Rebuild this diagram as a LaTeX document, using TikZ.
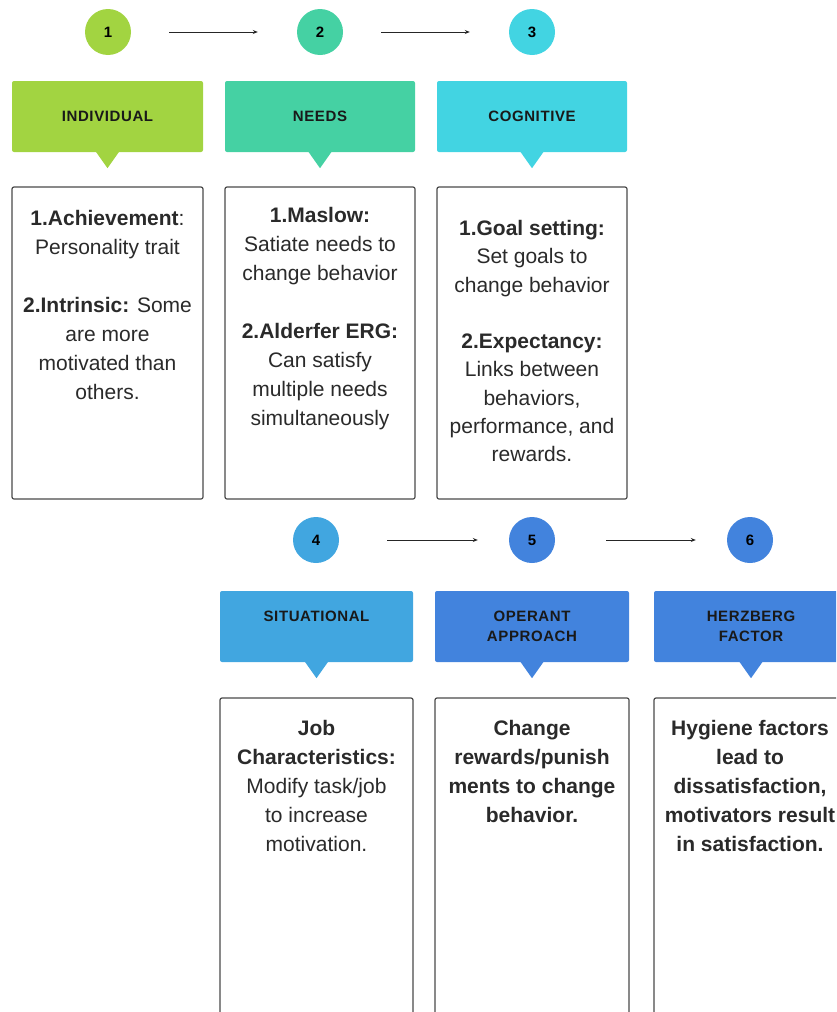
\documentclass[tikz,border=0pt]{standalone}
\usepackage{fontspec}
\setmainfont{Liberation Sans}
\newfontfamily\hdrfont[LetterSpace=4]{Liberation Sans}
\usetikzlibrary{arrows.meta}
\definecolor{cA}{HTML}{A2D441}
\definecolor{cB}{HTML}{45D1A3}
\definecolor{cC}{HTML}{42D4E2}
\definecolor{cD}{HTML}{41A6E0}
\definecolor{cE}{HTML}{4283DD}
\definecolor{txt}{HTML}{2A2A2A}
\definecolor{edge}{HTML}{4A4A4A}
\begin{document}
\begin{tikzpicture}[x=1pt,y=-1pt,
  num/.style={circle,minimum size=46pt,inner sep=0pt,font=\fontsize{15}{18}\selectfont\bfseries,text=black},
  hdr/.style={rectangle,rounded corners=2pt,inner sep=0pt,minimum height=71pt,align=center,
     font=\hdrfont\fontsize{15}{20}\selectfont\bfseries,text=black!90},
  card/.style={rectangle,rounded corners=2pt,draw=edge,line width=1.2pt,fill=white,inner sep=0pt},
  body/.style={anchor=north,inner sep=0pt,align=center,text=txt,font=\fontsize{21}{29}\selectfont},
  arr/.style={draw=black!85,line width=1pt,-{Stealth[length=5pt,width=4pt]}}]
\useasboundingbox (0,0) rectangle (836,1012);
\clip (0,0) rectangle (836,1012);
% ---- row 1 circles
\node[num,fill=cA] (c1) at (108,32) {1};
\node[num,fill=cB] (c2) at (320,32) {2};
\node[num,fill=cC] (c3) at (532,32) {3};
\draw[arr,shorten <=38pt,shorten >=39pt] (c1) -- (c2);
\draw[arr,shorten <=38pt,shorten >=39pt] (c2) -- (c3);
% ---- row 1 headers
\node[hdr,fill=cA,minimum width=191pt] (h1) at (107.5,116.5) {INDIVIDUAL};
\node[hdr,fill=cB,minimum width=190pt] (h2) at (320,116.5) {NEEDS};
\node[hdr,fill=cC,minimum width=190pt] (h3) at (532,116.5) {COGNITIVE};
\foreach \h/\c in {h1/cA,h2/cB,h3/cC}{
  \fill[\c] ([xshift=-12pt,yshift=1pt]\h.south) -- ([xshift=12pt,yshift=1pt]\h.south) -- ([yshift=-16pt]\h.south) -- cycle;}
% ---- row 1 cards
\node[card,minimum width=191pt,minimum height=312pt] (b1) at (107.5,343) {};
\node[card,minimum width=190pt,minimum height=312pt] (b2) at (320,343) {};
\node[card,minimum width=190pt,minimum height=312pt] (b3) at (532,343) {};
\node[body] (t1) at (107.5,210) {\textbf{1.Achievement}:\\Personality trait\\[29pt]\textbf{2.Intrinsic:} Some\\are more\\motivated than\\others.};
\node[body] (t2) at (320,207) {\textbf{1.Maslow:}\\Satiate needs to\\change behavior\\[29pt]\textbf{2.Alderfer ERG:}\\Can satisfy\\multiple needs\\simultaneously};
\node[body,font=\fontsize{21}{28.3}\selectfont] (t3) at (532,220) {\textbf{1.Goal setting:}\\Set goals to\\change behavior\\[28.3pt]\textbf{2.Expectancy:}\\Links between\\behaviors,\\performance, and\\rewards.};
% ---- row 2 circles
\node[num,fill=cD] (c4) at (316,540) {4};
\node[num,fill=cE] (c5) at (532,540) {5};
\node[num,fill=cE] (c6) at (750,540) {6};
\draw[arr,shorten <=48pt,shorten >=31pt] (c4) -- (c5);
\draw[arr,shorten <=51pt,shorten >=31pt] (c5) -- (c6);
% ---- row 2 headers
\node[hdr,fill=cD,minimum width=193pt] (h4) at (316.5,626.5) {SITUATIONAL\\\mbox{}};
\node[hdr,fill=cE,minimum width=194pt] (h5) at (532,626.5) {OPERANT\\APPROACH};
\node[hdr,fill=cE,minimum width=194pt] (h6) at (751,626.5) {HERZBERG\\FACTOR};
\foreach \h/\c in {h4/cD,h5/cE,h6/cE}{
  \fill[\c] ([xshift=-12pt,yshift=1pt]\h.south) -- ([xshift=12pt,yshift=1pt]\h.south) -- ([yshift=-16pt]\h.south) -- cycle;}
% ---- row 2 cards
\node[card,minimum width=193pt,minimum height=330pt] (b4) at (316.5,863) {};
\node[card,minimum width=194pt,minimum height=330pt] (b5) at (532,863) {};
\node[card,minimum width=194pt,minimum height=330pt] (b6) at (751,863) {};
\node[body] (t4) at (316.5,720) {\textbf{Job}\\\textbf{Characteristics:}\\Modify task/job\\to increase\\motivation.};
\node[body,font=\fontsize{21}{29}\selectfont\bfseries] (t5) at (532,720) {Change\\rewards/punish\\ments to change\\behavior.};
\node[body,font=\fontsize{21}{29}\selectfont\bfseries] (t6) at (750,720) {Hygiene factors\\lead to\\dissatisfaction,\\motivators result\\in satisfaction.};
\end{tikzpicture}
\end{document}
